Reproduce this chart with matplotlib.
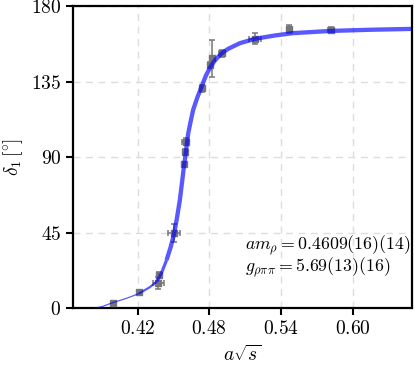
"""P-wave phase shift vs a*sqrt(s) with Breit-Wigner fit band."""

import matplotlib
matplotlib.use("Agg")
import matplotlib.pyplot as plt
import numpy as np

plt.rcParams["font.family"] = "serif"
plt.rcParams["font.serif"] = ["cmr10", "DejaVu Serif"]
plt.rcParams["mathtext.fontset"] = "cm"
plt.rcParams["axes.formatter.use_mathtext"] = True

# lattice points: a*sqrt(s), delta_1 [deg] and their errors
x_pts = [0.3996, 0.4208, 0.4375, 0.4380, 0.4507, 0.4588, 0.4598, 0.4602,
         0.4736, 0.4809, 0.4826, 0.4903, 0.5182, 0.5469, 0.5816]
y_pts = [3.0, 9.5, 15.2, 19.8, 44.7, 85.9, 93.3, 99.2,
         131.0, 144.9, 148.9, 151.8, 160.4, 166.1, 165.7]
x_err = [0.0010, 0.0012, 0.0045, 0.0010, 0.0049, 0.0008, 0.0008, 0.0030,
         0.0012, 0.0010, 0.0010, 0.0020, 0.0047, 0.0010, 0.0020]
y_err = [1.0, 1.2, 3.5, 2.0, 5.3, 1.5, 1.5, 2.0,
         2.0, 2.0, 11.0, 2.0, 3.2, 2.5, 2.0]

# fit curve
x_fit = [0.3830, 0.3900, 0.3996, 0.4100, 0.4208, 0.4300, 0.4359, 0.4400,
         0.4443, 0.4477, 0.4507, 0.4530, 0.4554, 0.4588, 0.4606, 0.4624,
         0.4645, 0.4665, 0.4700, 0.4733, 0.4770, 0.4811, 0.4850, 0.4903,
         0.4960, 0.5056, 0.5182, 0.5350, 0.5503, 0.5816, 0.6150, 0.6490]
y_fit = [0.0, 1.0, 3.5, 5.8, 8.7, 12.5, 15.8, 21.0,
         28.8, 36.5, 44.7, 54.0, 64.5, 84.3, 94.0, 104.2,
         111.5, 118.1, 125.5, 131.4, 138.2, 143.9, 147.8, 151.8,
         154.5, 157.8, 160.4, 162.4, 163.8, 165.1, 165.8, 166.3]

x_ticks = [0.42, 0.48, 0.54, 0.60]
y_ticks = [0, 45, 90, 135, 180]

fig = plt.figure(figsize=(4.15, 3.68), dpi=100)
ax = fig.add_axes([0.176, 0.162, 0.816, 0.822])

ax.errorbar(x_pts, y_pts, xerr=x_err, yerr=y_err, fmt="s", ms=4,
            color="#767676", ecolor="#767676", elinewidth=1.1, capsize=2.5,
            capthick=1.1, zorder=3)

# fit band gets wider once the curve leaves threshold
xf = np.array(x_fit)
yf = np.array(y_fit)
pieces = [(0.3830, 0.4208, 0.9), (0.4208, 0.4359, 1.6),
          (0.4359, 0.4443, 2.3), (0.4443, 0.6490, 3.1)]
for lo, hi, lw in pieces:
    m = (xf >= lo) & (xf <= hi)
    ax.plot(xf[m], yf[m], color="blue", alpha=0.65, lw=lw,
            solid_capstyle="butt", solid_joinstyle="round", zorder=4)

ax.text(0.508, 0.208, r"$am_\rho = 0.4609(16)(14)$", transform=ax.transAxes,
        fontsize=12.8, va="center", ha="left")
ax.text(0.508, 0.136, r"$g_{\rho\pi\pi} = 5.69(13)(16)$", transform=ax.transAxes,
        fontsize=12.8, va="center", ha="left")

ax.set_xlim(0.366, 0.6494)
ax.set_ylim(0, 180)
ax.set_xticks(x_ticks)
ax.set_yticks(y_ticks)
ax.grid(True, ls=(0, (5, 4)), color="#dddddd", lw=1.0, zorder=0)
ax.set_axisbelow(True)
ax.tick_params(direction="out", length=5, width=1.5, labelsize=14)
for s in ax.spines.values():
    s.set_linewidth(1.6)

ax.set_xlabel(r"$a\sqrt{s}$", fontsize=14, labelpad=5)
ax.set_ylabel(r"$\delta_1\,[\!^\circ\!]$", fontsize=14, labelpad=4)

fig.savefig("out.png", dpi=100)
